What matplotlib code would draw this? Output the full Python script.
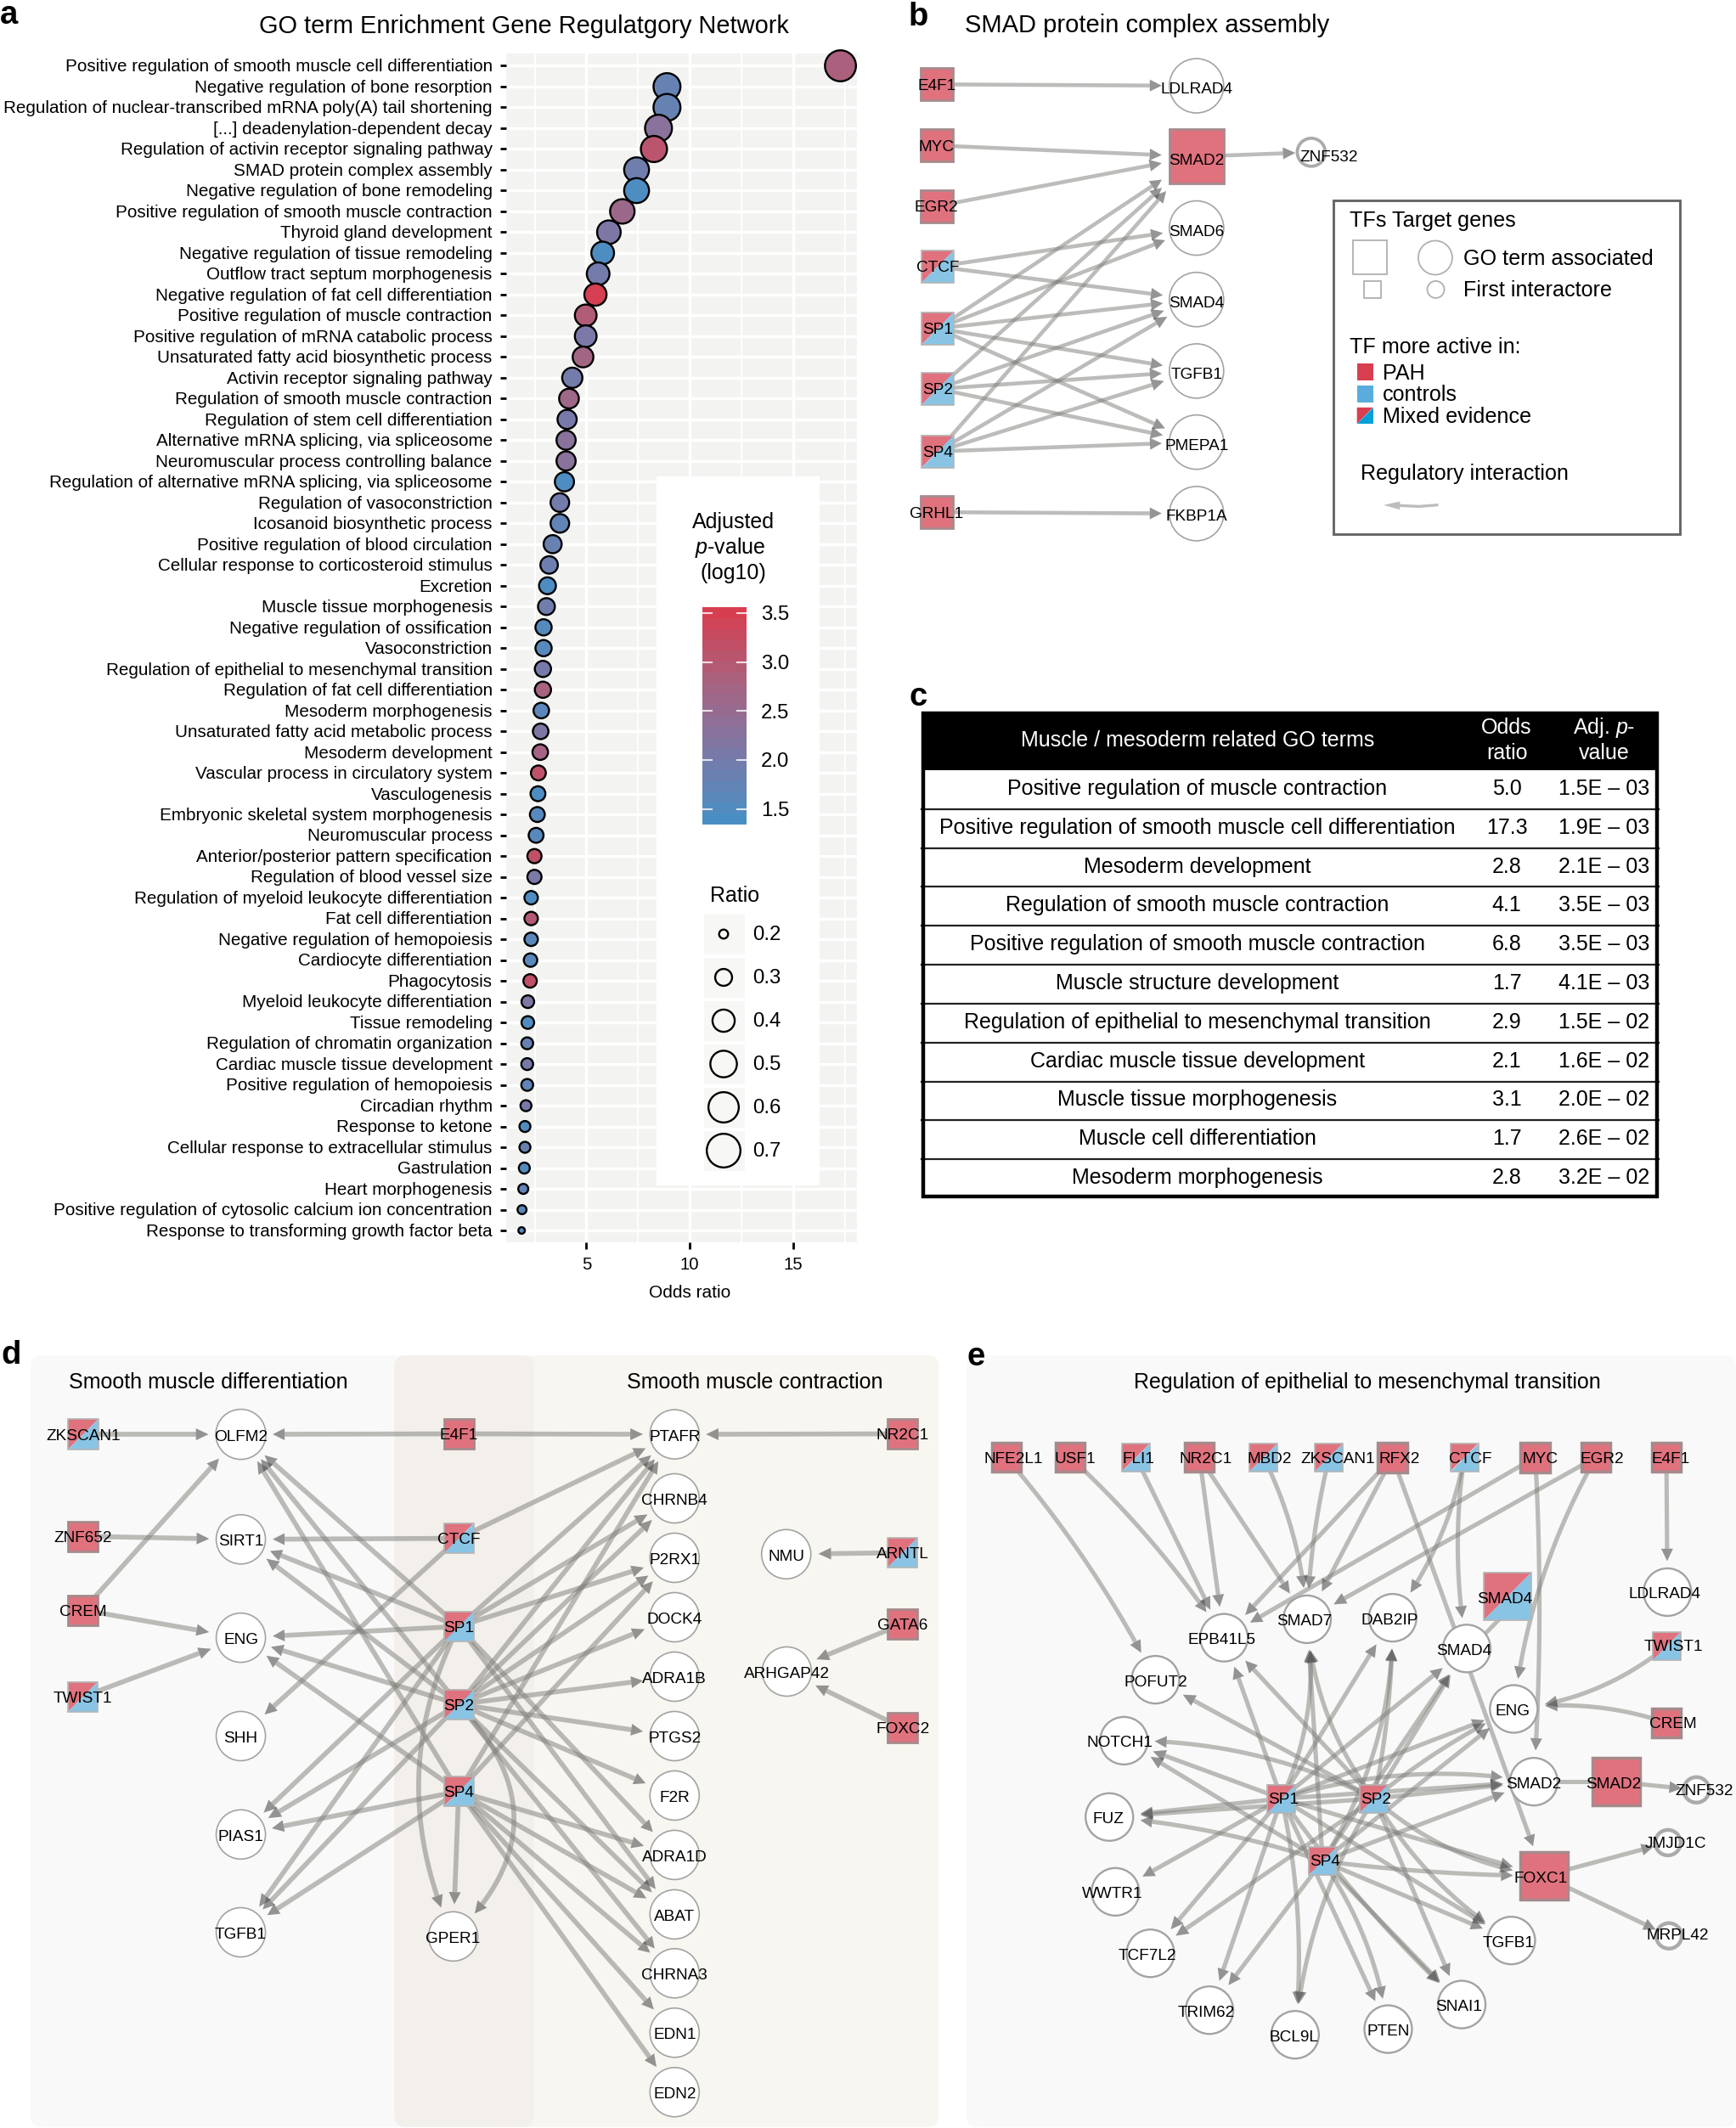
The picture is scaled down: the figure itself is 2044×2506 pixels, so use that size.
import numpy as np
import matplotlib
matplotlib.use('Agg')
import matplotlib.pyplot as plt
from matplotlib.colors import LinearSegmentedColormap, Normalize
from matplotlib.cm import ScalarMappable
from matplotlib.patches import Circle, Rectangle, Polygon, FancyBboxPatch
from matplotlib.transforms import ScaledTranslation

plt.rcParams['font.family'] = ['Liberation Sans', 'DejaVu Sans']
plt.rcParams['mathtext.fontset'] = 'custom'
plt.rcParams['mathtext.rm'] = 'Liberation Sans'
plt.rcParams['mathtext.it'] = 'Liberation Sans:italic'

W, H = 2044, 2506

# ---------- panel a data ----------
go_terms = [
 "Positive regulation of smooth muscle cell differentiation","Negative regulation of bone resorption",
 "Regulation of nuclear-transcribed mRNA poly(A) tail shortening","[...] deadenylation-dependent decay",
 "Regulation of activin receptor signaling pathway","SMAD protein complex assembly",
 "Negative regulation of bone remodeling","Positive regulation of smooth muscle contraction",
 "Thyroid gland development","Negative regulation of tissue remodeling","Outflow tract septum morphogenesis",
 "Negative regulation of fat cell differentiation","Positive regulation of muscle contraction",
 "Positive regulation of mRNA catabolic process","Unsaturated fatty acid biosynthetic process",
 "Activin receptor signaling pathway","Regulation of smooth muscle contraction",
 "Regulation of stem cell differentiation","Alternative mRNA splicing, via spliceosome",
 "Neuromuscular process controlling balance","Regulation of alternative mRNA splicing, via spliceosome",
 "Regulation of vasoconstriction","Icosanoid biosynthetic process","Positive regulation of blood circulation",
 "Cellular response to corticosteroid stimulus","Excretion","Muscle tissue morphogenesis",
 "Negative regulation of ossification","Vasoconstriction","Regulation of epithelial to mesenchymal transition",
 "Regulation of fat cell differentiation","Mesoderm morphogenesis","Unsaturated fatty acid metabolic process",
 "Mesoderm development","Vascular process in circulatory system","Vasculogenesis",
 "Embryonic skeletal system morphogenesis","Neuromuscular process","Anterior/posterior pattern specification",
 "Regulation of blood vessel size","Regulation of myeloid leukocyte differentiation","Fat cell differentiation",
 "Negative regulation of hemopoiesis","Cardiocyte differentiation","Phagocytosis",
 "Myeloid leukocyte differentiation","Tissue remodeling","Regulation of chromatin organization",
 "Cardiac muscle tissue development","Positive regulation of hemopoiesis","Circadian rhythm","Response to ketone",
 "Cellular response to extracellular stimulus","Gastrulation","Heart morphogenesis",
 "Positive regulation of cytosolic calcium ion concentration","Response to transforming growth factor beta"]
odds = [17.29,8.9,8.9,8.49,8.27,7.43,7.43,6.74,6.09,5.79,5.57,5.44,4.97,4.97,4.84,4.32,4.16,4.07,4.02,4.02,3.94,3.72,3.72,
        3.37,3.2,3.12,3.07,2.93,2.93,2.9,2.9,2.82,2.79,2.77,2.68,2.66,2.63,2.57,2.49,2.49,2.33,2.33,2.33,2.3,2.28,2.17,2.17,
        2.14,2.14,2.14,2.08,2.03,2.03,2.0,1.95,1.89,1.87]
padj = [2.85,1.75,1.75,2.3,3.1,1.9,1.4,2.6,2.1,1.4,1.95,3.55,2.95,2.05,2.7,1.95,2.65,2.0,2.3,2.3,1.4,1.95,1.7,1.8,1.85,1.4,1.9,
        1.5,1.55,2.0,2.8,1.6,2.15,2.75,3.15,1.4,1.55,1.55,3.2,2.05,1.4,3.0,1.6,1.55,3.2,2.1,1.45,1.75,2.0,1.7,2.0,1.45,1.8,1.5,1.7,1.6,1.5]
ratio = [.62,.51,.51,.51,.49,.46,.46,.45,.43,.41,.41,.40,.39,.39,.37,.36,.35,.34,.34,.34,.34,.33,.33,.32,.31,.30,.30,.29,.29,.29,.29,
         .28,.28,.28,.27,.27,.27,.27,.26,.26,.25,.25,.25,.25,.25,.24,.24,.23,.23,.23,.22,.22,.22,.22,.21,.20,.18]
ratio_legend = [0.2,0.3,0.4,0.5,0.6,0.7]
cbar_ticks = [1.5,2.0,2.5,3.0,3.5]

# ---------- panel c data ----------
tbl_terms = ["Positive regulation of muscle contraction","Positive regulation of smooth muscle cell differentiation",
 "Mesoderm development","Regulation of smooth muscle contraction","Positive regulation of smooth muscle contraction",
 "Muscle structure development","Regulation of epithelial to mesenchymal transition","Cardiac muscle tissue development",
 "Muscle tissue morphogenesis","Muscle cell differentiation","Mesoderm morphogenesis"]
tbl_odds = ["5.0","17.3","2.8","4.1","6.8","1.7","2.9","2.1","3.1","1.7","2.8"]
tbl_p = ["1.5E \u2013 03","1.9E \u2013 03","2.1E \u2013 03","3.5E \u2013 03","3.5E \u2013 03","4.1E \u2013 03","1.5E \u2013 02",
         "1.6E \u2013 02","2.0E \u2013 02","2.6E \u2013 02","3.2E \u2013 02"]

# ---------- network data: (x, y, kind, width, label dx, label dy); kinds r red, m mixed, c circle, d ring ----------
b_nodes = {
 'E4F1':(98,236,'r',38),'MYC':(98,407,'r',38),'EGR2':(98,577,'r',38),'CTCF':(100,746,'m',38),'SP1':(100,919,'m',38),
 'SP2':(100,1088,'m',38),'SP4':(100,1263,'m',38),'GRHL1':(98,1433,'r',38),
 'LDLRAD4':(576,240,'c',64,0,2),'SMAD2':(576,438,'r',64,0,3),'ZNF532':(787,426,'d',36,33,4),'SMAD6':(576,638,'c',64,0,3),
 'SMAD4':(576,838,'c',64,0,3),'TGFB1':(576,1038,'c',64,0,3),'PMEPA1':(576,1237,'c',64,0,3),'FKBP1A':(576,1437,'c',64,0,2)}
b_edges = [('E4F1','LDLRAD4'),('MYC','SMAD2'),('EGR2','SMAD2'),('CTCF','SMAD6'),('CTCF','SMAD4'),('SP1','SMAD2'),('SP1','SMAD6'),
 ('SP1','SMAD4'),('SP1','TGFB1'),('SP1','PMEPA1'),('SP2','SMAD2'),('SP2','SMAD4'),('SP2','TGFB1'),('SP2','PMEPA1'),
 ('SP4','SMAD2'),('SP4','SMAD4'),('SP4','TGFB1'),('SP4','PMEPA1'),('GRHL1','FKBP1A'),('SMAD2','ZNF532')]

d_nodes = {
 'ZKSCAN1':(137,214,'m',36),'ZNF652':(137,413,'r',35),'CREM':(137,557,'r',35),'TWIST1':(137,726,'m',35),
 'OLFM2':(397,214,'c',59,0,1),'SIRT1':(397,419,'c',58,0,1),'ENG':(397,611,'c',58,0,1),'SHH':(397,803,'c',58,0,1),
 'PIAS1':(397,995,'c',58,0,1),'TGFB1':(397,1186,'c',58,0,1),
 'E4F1':(756,213,'r',35),'CTCF':(756,417,'m',35),'SP1':(756,589,'m',35),'SP2':(756,741,'m',35),'SP4':(756,911,'m',35),
 'GPER1':(747,1194,'c',58,0,1),
 'PTAFR':(1112,214,'c',58,0,1),'CHRNB4':(1112,339,'c',58,0,1),'P2RX1':(1112,455,'c',58,0,1),'DOCK4':(1112,571,'c',58,0,1),
 'ADRA1B':(1112,687,'c',58,0,1),'PTGS2':(1112,803,'c',58,0,1),'F2R':(1112,919,'c',58,0,1),'ADRA1D':(1112,1035,'c',58,0,1),
 'ABAT':(1112,1151,'c',58,0,1),'CHRNA3':(1112,1266,'c',58,0,1),'EDN1':(1112,1382,'c',58,0,1),'EDN2':(1112,1498,'c',58,0,1),
 'NMU':(1296,448,'c',58,0,1),'ARHGAP42':(1297,677,'c',58,0,1),'NR2C1':(1488,213,'r',35),'ARNTL':(1488,445,'m',35),
 'GATA6':(1488,584,'r',35),'FOXC2':(1488,787,'r',35)}
d_edges = [('ZKSCAN1','OLFM2'),('E4F1','OLFM2'),('E4F1','PTAFR'),('NR2C1','PTAFR'),('CREM','OLFM2'),('ZNF652','SIRT1'),
 ('CTCF','SIRT1'),('CTCF','PTAFR'),('CTCF','SHH'),('CREM','ENG'),('TWIST1','ENG'),('SP1','OLFM2'),('SP1','SIRT1'),('SP1','ENG'),
 ('SP1','PIAS1'),('SP1','TGFB1'),('SP1','PTAFR'),('SP1','CHRNB4'),('SP1','P2RX1'),('SP1','ADRA1D'),('SP1','ABAT'),
 ('SP1','GPER1',-0.24),('SP2','OLFM2'),('SP2','SIRT1'),('SP2','ENG'),('SP2','PIAS1'),('SP2','TGFB1'),('SP2','PTAFR'),
 ('SP2','CHRNB4'),('SP2','P2RX1'),('SP2','DOCK4'),('SP2','ADRA1B'),('SP2','PTGS2'),('SP2','F2R'),('SP2','ABAT'),('SP2','CHRNA3'),
 ('SP2','GPER1',0.5),('SP4','OLFM2'),('SP4','ENG'),('SP4','PIAS1'),('SP4','TGFB1'),('SP4','PTAFR'),('SP4','P2RX1'),
 ('SP4','ADRA1D'),('SP4','ABAT'),('SP4','CHRNA3'),('SP4','EDN1'),('SP4','EDN2'),('SP4','GPER1'),('ARNTL','NMU'),
 ('GATA6','ARHGAP42'),('FOXC2','ARHGAP42')]

e_nodes = {
 'NFE2L1':(110,259,'r',34,13,0),'USF1':(238,259,'r',34,9,0),'FLI1':(369,259,'m',33,5,0),'NR2C1':(496,259,'r',34,12,0),
 'MBD2':(624,259,'m',33,12,0),'ZKSCAN1':(755,259,'m',33,16,0),'RFX2':(882,259,'r',35,12,0),'CTCF':(1025,259,'m',33,12,0),
 'MYC':(1167,259,'r',35,10,0),'EGR2':(1288,259,'r',34,11,0),'E4F1':(1429,259,'r',34,8,0),
 'EPB41L5':(545,611,'c',56,-5,1),'SMAD7':(711,575,'c',56,-5,1),'DAB2IP':(882,572,'c',56,-5,1),'SMAD4c':(1030,632,'c',56,-5,1),
 'LDLRAD4':(1431,522,'c',56,-6,1),'POFUT2':(408,693,'c',56,0,1),'ENG':(1124,750,'c',56,-2,1),'NOTCH1':(345,812,'c',56,-7,1),
 'SMAD2c':(1164,892,'c',56,-1,1),'FUZ':(316,961,'c',56,-2,1),'WWTR1':(328,1107,'c',56,-6,1),'TCF7L2':(398,1227,'c',56,-6,1),
 'TRIM62':(516,1338,'c',56,-6,1),'BCL9L':(687,1386,'c',56,-2,1),'PTEN':(873,1375,'c',56,0,1),'SNAI1':(1020,1327,'c',56,-5,1),
 'TGFB1':(1119,1202,'c',56,-5,1),'SMAD4s':(1112,530,'m',56,-5,2),'SMAD2s':(1328,892,'r',56,-5,1),'FOXC1':(1184,1076,'r',56,-6,1),
 'TWIST1':(1429,628,'m',33,13,-1),'CREM':(1429,777,'r',34,12,0),'SP1':(660,925,'m',33,4,-1),'SP2':(845,925,'m',33,3,-1),
 'SP4':(742,1047,'m',33,4,-1),'ZNF532':(1489,908,'d',33,14,0),'JMJD1C':(1432,1011,'d',33,14,0),'MRPL42':(1434,1193,'d',33,16,-2)}
e_labels = {'SMAD4c':'SMAD4','SMAD2c':'SMAD2','SMAD4s':'SMAD4','SMAD2s':'SMAD2'}
e_edges = [('NFE2L1','POFUT2',.06),('USF1','EPB41L5',.06),('FLI1','EPB41L5'),('NR2C1','EPB41L5'),('NR2C1','SMAD7'),('MBD2','SMAD7',.1),
 ('ZKSCAN1','SMAD7',-.05),('RFX2','EPB41L5'),('RFX2','SMAD7'),('RFX2','FOXC1'),('CTCF','DAB2IP',.12),('CTCF','SMAD4c',-.08),
 ('MYC','EPB41L5'),('MYC','SMAD2c',.03),('EGR2','SMAD7'),('EGR2','ENG',-.1),('E4F1','LDLRAD4'),('TWIST1','ENG',.15),('CREM','ENG',-.12),
 ('SMAD2s','ZNF532'),('FOXC1','JMJD1C'),('FOXC1','MRPL42'),
 ('SP1','EPB41L5'),('SP1','SMAD7',-.15),('SP1','DAB2IP'),('SP1','NOTCH1'),('SP1','FUZ'),('SP1','WWTR1'),('SP1','TCF7L2'),('SP1','TRIM62'),
 ('SP1','BCL9L',.08),('SP1','PTEN'),('SP1','SNAI1',-.05),('SP1','TGFB1'),('SP1','FOXC1'),('SP1','SMAD2c'),('SP1','SMAD2c',.12),('SP1','ENG'),('SP1','SMAD4c'),
 ('SP2','EPB41L5'),('SP2','SMAD7',.15),('SP2','DAB2IP',-.05),('SP2','SMAD4c'),('SP2','ENG',.06),('SP2','SMAD2c'),('SP2','POFUT2'),
 ('SP2','NOTCH1',-.12),('SP2','FUZ'),('SP2','FOXC1',-.15),('SP2','TGFB1',-.12),('SP2','SNAI1'),('SP2','TCF7L2'),('SP2','BCL9L',-.12),
 ('SP4','SMAD7'),('SP4','DAB2IP',-.15),('SP4','SMAD4c'),('SP4','ENG'),('SP4','SMAD2c'),('SP4','NOTCH1'),('SP4','FUZ',-.06),('SP4','FOXC1',-.03),
 ('SP4','TGFB1'),('SP4','SNAI1'),('SP4','PTEN',.12),('SP4','TRIM62')]

# ---------- style ----------
RED, BLUE = '#e0727e', '#89c4e4'
cmap = LinearSegmentedColormap.from_list('p', ['#4a8fc4', '#7c78a6', '#a9627f', '#d73f50'])
norm = Normalize(1.34, 3.56)

def diam(r):
    return np.sqrt(144 + (np.asarray(r) - 0.2) * 3074)

def size_pts(r):
    return (diam(r) * 0.72 - 1.0) ** 2

fig = plt.figure(figsize=(W / 100, H / 100), dpi=100, facecolor='white')

# ---------- panel a ----------
L, R, T, B = 595.6, 1008.8, 63, 1463
ax = fig.add_axes([L / W, 1 - B / H, (R - L) / W, (B - T) / H], facecolor='#f3f3f1')
yy = np.arange(len(go_terms))
ax.scatter(odds, yy, s=size_pts(ratio), c=padj, cmap=cmap, norm=norm, edgecolors='black', linewidths=1.7, zorder=3, clip_on=False)
ax.set_xlim(1.107, 18.08)
ax.set_ylim(56.57, -0.592)
ax.set_yticks(yy)
ax.set_yticklabels(go_terms, fontsize=14.85)
ax.set_xticks([5, 10, 15])
ax.set_xticks([2.5, 7.5, 12.5, 17.5], minor=True)
ax.tick_params(axis='y', length=5, width=2, pad=6.5, color='black')
ax.tick_params(axis='x', length=6, width=2, pad=6, labelsize=14.6)
ax.tick_params(axis='x', which='minor', length=0)
ax.grid(True, which='major', color='white', lw=2.4, zorder=1)
ax.grid(True, which='minor', axis='x', color='white', lw=1.4, zorder=1)
ax.set_axisbelow(True)
for s in ax.spines.values():
    s.set_visible(False)
up = ScaledTranslation(0, 0.7 / 100, fig.dpi_scale_trans)
for lab in ax.get_yticklabels():
    lab.set_transform(lab.get_transform() + up)

# overlay in figure pixels
ov = fig.add_axes([0, 0, 1, 1], facecolor='none', zorder=5)
ov.set_xlim(0, W)
ov.set_ylim(H, 0)
ov.axis('off')

def txt(x, y, s, size=14, ha='left', va='center', **kw):
    kw.setdefault('color', 'black')
    ov.text(x, y + 2, s, fontsize=size, ha=ha, va=va, zorder=kw.pop('zorder', 8), **kw)

txt(812, 1520, 'Odds ratio', 15, ha='center')
txt(617, 29, 'GO term Enrichment Gene Regulatgory Network', 20.9, ha='center')
for lab, x, y in [('a', 0, 16), ('b', 1070, 18), ('c', 1071, 819), ('d', 1, 1594), ('e', 1138, 1596)]:
    txt(x, y, lab, 27.5, fontweight='bold')

# legend box of panel a
ov.add_patch(Rectangle((773, 561), 192, 835, fc='white', ec='none', zorder=1))
txt(863, 613, 'Adjusted', 18, ha='center')
txt(860, 643, '$\\mathit{p}$-value', 18, ha='center')
txt(863, 673, '(log10)', 18, ha='center')
cax = fig.add_axes([827 / W, 1 - 971 / H, 52 / W, 256 / H], zorder=6)
cb = fig.colorbar(ScalarMappable(norm=norm, cmap=cmap.resampled(20)), cax=cax)
cb.outline.set_visible(False)
cb.set_ticks(cbar_ticks)
cb.ax.tick_params(length=0, pad=12, labelsize=17.3)
for t in cbar_ticks:
    cax.plot([0, .21], [t, t], color='white', lw=1.5, alpha=.8, transform=cax.get_yaxis_transform())
    cax.plot([.79, 1], [t, t], color='white', lw=1.5, alpha=.8, transform=cax.get_yaxis_transform())
txt(836, 1053, 'Ratio', 18)
key_y = 1100 + 51 * np.arange(len(ratio_legend))
for ky, r in zip(key_y, ratio_legend):
    ov.add_patch(Rectangle((829, ky - 23.5), 48, 47, fc='#f7f7f6', ec='none', zorder=2))
    txt(886, ky - 1, f'{r:.1f}', 17.3)
ov.scatter([852] * len(key_y), key_y, s=size_pts(ratio_legend), facecolors='none', edgecolors='black', linewidths=1.7, zorder=3)

# ---------- network helpers ----------
def mixed_square(cx, cy, w, z=4):
    h = w / 2
    ov.add_patch(Polygon([(cx - h, cy - h), (cx + h, cy - h), (cx - h, cy + h)], fc=RED, ec='none', zorder=z))
    ov.add_patch(Polygon([(cx + h, cy - h), (cx + h, cy + h), (cx - h, cy + h)], fc=BLUE, ec='none', zorder=z))
    ov.add_patch(Rectangle((cx - h, cy - h), w, w, fc='none', ec='#b4b4b4', lw=1.2, zorder=z))

def draw_node(n, fx, fy, label, ecw=1.2, size=13.7):
    x, y, kind, w = n[:4]
    dx, dy = (n[4], n[5]) if len(n) > 4 else (0, 0)
    X, Y = fx(x), fy(y)
    if kind == 'r':
        ov.add_patch(Rectangle((X - w / 2, Y - w / 2), w, w, fc=RED, ec='#a58a8c', lw=ecw + .8, zorder=4))
    elif kind == 'm':
        mixed_square(X, Y, w)
    elif kind == 'c':
        ov.add_patch(Circle((X, Y), w / 2, fc='white', ec='#a3a3a3', lw=ecw, zorder=4))
    else:
        ov.add_patch(Circle((X, Y), w / 2 - 1.5, fc='white', ec='#ababab', lw=ecw + 1.5, zorder=4))
    txt(X + dx / 1.6, Y + dy, label, size, ha='center', va='center')

def draw_edge(p0, p2, target, rad=0.0, lw=3.2, gap=9):
    p0, p2 = np.array(p0, float), np.array(p2, float)
    d = p2 - p0
    c = (p0 + p2) / 2 + rad * np.array([d[1], -d[0]])
    t = np.linspace(0, 1, 240)[:, None]
    pts = (1 - t) ** 2 * p0 + 2 * t * (1 - t) * c + t ** 2 * p2
    r, sq = target
    if sq:
        dist = np.abs(pts - p2).max(axis=1)
    else:
        dist = np.hypot(*(pts - p2).T)
    idx = np.argmax(dist <= r + gap)
    tip = pts[idx]
    hl, hw = 15, 7
    dist2 = np.hypot(*(pts[:idx] - tip).T)
    base_i = np.argmax(dist2 <= hl)
    base = pts[base_i]
    u = (tip - base) / (np.hypot(*(tip - base)) + 1e-9)
    n = np.array([-u[1], u[0]])
    ov.plot(pts[:base_i + 1, 0], pts[:base_i + 1, 1], color='#80807b', alpha=.52, lw=lw, solid_capstyle='butt', zorder=3)
    ov.add_patch(Polygon([tip, base + n * hw, base - n * hw], fc='#555555', ec='none', alpha=.62, zorder=3.2))

def draw_network(nodes, edges, fx, fy, labels=None, lw=3.2, ecw=1.2):
    labels = labels or {}
    for e in edges:
        a, b = nodes[e[0]], nodes[e[1]]
        rad = e[2] if len(e) > 2 else 0.0
        target = (b[3] / 2, b[2] in 'rm')
        gap = 1 if b[2] == 'd' else 9
        draw_edge((fx(a[0]), fy(a[1])), (fx(b[0]), fy(b[1])), target, rad, lw, gap)
    for n_key, n in nodes.items():
        draw_node(n, fx, fy, labels.get(n_key, n_key), ecw)

def rbox(x0, y0, x1, y1, col, z=0.5):
    ov.add_patch(FancyBboxPatch((x0 + 14, y0 + 14), x1 - x0 - 28, y1 - y0 - 28, boxstyle='round,pad=14,rounding_size=14',
                                fc=col, ec='none', zorder=z))

# ---------- panel b ----------
bx = lambda v: 1040 + v / 1.5618
by = lambda v: v / 2.3758
LEG = 18.1
txt(bx(150), 28, 'SMAD protein complex assembly', 21)
draw_network(b_nodes, b_edges, bx, by, lw=3.3)
ov.add_patch(Rectangle((bx(828), by(560)), bx(1465) - bx(828), by(1495) - by(560), fc='white', ec='#666666', lw=2.1, zorder=2))
txt(bx(858), by(613), 'TFs Target genes', LEG)
ov.add_patch(Rectangle((bx(895) - 20, by(721) - 20), 40, 40, fc='white', ec='#b0b0b0', lw=1.3, zorder=3))
ov.add_patch(Rectangle((bx(900) - 10, by(810) - 10), 20, 20, fc='white', ec='#b0b0b0', lw=1.3, zorder=3))
ov.add_patch(Circle((bx(1015), by(721)), 20, fc='white', ec='#b0b0b0', lw=1.3, zorder=3))
ov.add_patch(Circle((bx(1016), by(810)), 10, fc='white', ec='#b0b0b0', lw=1.3, zorder=3))
txt(bx(1067), by(720), 'GO term associated', LEG)
txt(bx(1067), by(808), 'First interactore', LEG)
txt(bx(858), by(967), 'TF more active in:', LEG)
sw_x, sw_w = bx(871), 19
ov.add_patch(Rectangle((sw_x, by(1018)), sw_w, 20, fc='#d73f50', ec='none', zorder=3))
ov.add_patch(Rectangle((sw_x, by(1078)), sw_w, 20, fc='#5aacdc', ec='none', zorder=3))
ov.add_patch(Polygon([(sw_x, by(1140)), (sw_x + sw_w, by(1140)), (sw_x, by(1186))], fc='#d73f50', ec='none', zorder=3))
ov.add_patch(Polygon([(sw_x + sw_w, by(1140)), (sw_x + sw_w, by(1186)), (sw_x, by(1186))], fc='#00a0d8', ec='none', zorder=3))
txt(bx(918), by(1040), 'PAH', LEG)
txt(bx(918), by(1100), 'controls', LEG)
txt(bx(918), by(1162), 'Mixed evidence', LEG)
txt(bx(878), by(1322), 'Regulatory interaction', LEG)
ov.plot([bx(1018), bx(985), bx(945)], [by(1413), by(1417), by(1414)], color='#bdbdbd', lw=2.4, zorder=3)
ov.add_patch(Polygon([(bx(920), by(1413)), (bx(950), by(1403)), (bx(950), by(1426))], fc='#bdbdbd', ec='none', zorder=3))

# ---------- panel c ----------
X0, X1, Y0, Yh, Y1 = 1085, 1953, 839, 907, 1411
TS = 18.0
ov.add_patch(Rectangle((X0, Y0), X1 - X0, Yh - Y0, fc='black', ec='none', zorder=2))
ov.add_patch(Rectangle((X0 + 2, Y0 + 1), X1 - X0 - 4, Y1 - Y0 - 3, fc='none', ec='black', lw=3.2, zorder=6))
txt(1410, 870, 'Muscle / mesoderm related GO terms', TS, ha='center', color='white')
txt(1774, 855, 'Odds', TS, ha='center', color='white')
txt(1774, 885, 'ratio', TS, ha='center', color='white')
txt(1889, 855, 'Adj. $\\mathit{p}$-', TS, ha='center', color='white')
txt(1889, 885, 'value', TS, ha='center', color='white')
row_h = (Y1 - Yh) / len(tbl_terms)
for i, (a_, b_, c_) in enumerate(zip(tbl_terms, tbl_odds, tbl_p)):
    yc = Yh + row_h * (i + .5) - 3
    txt(1410, yc, a_, TS, ha='center')
    txt(1774, yc, b_, TS, ha='center')
    txt(1942, yc, c_, TS, ha='right')
    if i:
        ov.plot([X0, X1], [Yh + row_h * i] * 2, color='#222222', lw=1.6, zorder=5)

# ---------- panel d ----------
dx = lambda v: v / 1.4
dy = lambda v: 1560 + v / 1.6575
rbox(dx(50), dy(60), dx(720), dy(1566), '#f9f9f9')
rbox(dx(800), dy(60), dx(1548), dy(1566), '#f8f6f0')
rbox(dx(650), dy(60), dx(880), dy(1566), '#f3efeb', z=0.7)
txt(dx(113), 1626, 'Smooth muscle differentiation', 18)
txt(dx(1033), 1626, 'Smooth muscle contraction', 18)
draw_network(d_nodes, d_edges, dx, dy, lw=4.1)

# ---------- panel e ----------
ex = lambda v: 1120 + v / 1.697
ey = lambda v: 1560 + v / 1.6575
rbox(ex(30), ey(60), 2044, ey(1566), '#f9f9f9')
txt((ex(366) + ex(1298)) / 2, 1626, 'Regulation of epithelial to mesenchymal transition', 18, ha='center')
ov.plot([ex(1070), ex(1100)], [ey(600), ey(570)], color='#80807b', alpha=.52, lw=3.6, zorder=3)
ov.plot([ex(1210), ex(1285)], [ey(892), ey(892)], color='#80807b', alpha=.52, lw=3.6, zorder=3)
draw_network(e_nodes, e_edges, ex, ey, labels=e_labels, lw=3.7, ecw=1.7)

fig.savefig('out.png', dpi=100)
